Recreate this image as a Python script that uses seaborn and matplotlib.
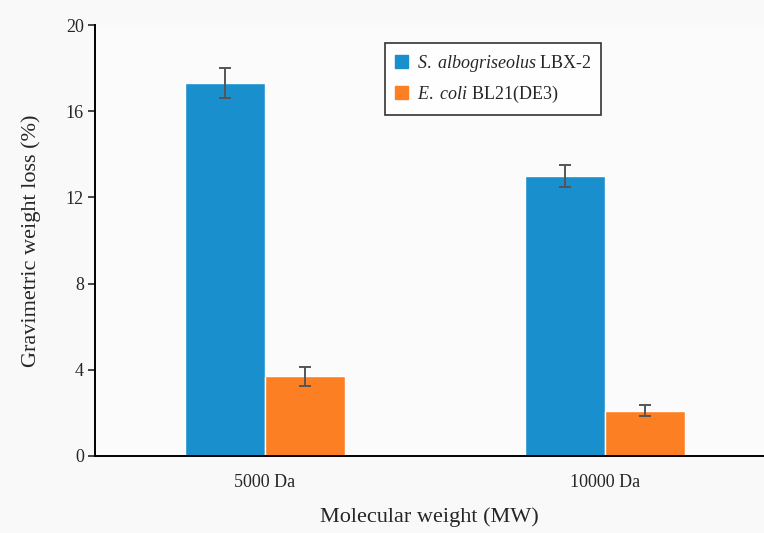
import matplotlib
matplotlib.use("Agg")
import matplotlib.pyplot as plt
import seaborn as sns
import pandas as pd

# values
groups = ["5000 Da", "10000 Da"]
strains = ["S. albogriseolus LBX-2", "E. coli BL21(DE3)"]
strain_labels = [r"$\it{S.\ albogriseolus}$ LBX-2", r"$\it{E.\ coli}$ BL21(DE3)"]
loss_albo = [17.3, 13.0]
loss_coli = [3.7, 2.1]
err_albo = [0.7, 0.5]
err_coli = [0.45, 0.25]

colors = ["#1a8fce", "#fd7f23"]

df = pd.DataFrame({
    "mw": groups * 2,
    "strain": [strains[0]] * 2 + [strains[1]] * 2,
    "loss": loss_albo + loss_coli,
    "err": err_albo + err_coli,
})

sns.set_style("ticks")
plt.rcParams["font.family"] = ["Liberation Serif", "DejaVu Serif"]
plt.rcParams["mathtext.fontset"] = "custom"
plt.rcParams["mathtext.it"] = "Liberation Serif:italic"
plt.rcParams["mathtext.rm"] = "Liberation Serif"

fig = plt.figure(figsize=(7.64, 5.33), dpi=100, facecolor="#f9f9f9")
ax = fig.add_axes([95 / 764, 77 / 533, (764 - 95) / 764, 431 / 533])
ax.set_facecolor("#fbfbfb")

sns.barplot(data=df, x="mw", y="loss", hue="strain", order=groups,
            hue_order=strains, palette=colors, width=0.47, errorbar=None,
            saturation=1, ax=ax, legend=False)

# error bars at the bar centres
for cont, strain in zip(ax.containers, strains):
    sub = df[df["strain"] == strain].set_index("mw").loc[groups]
    xs = [p.get_x() + p.get_width() / 2 for p in cont.patches]
    ax.errorbar(xs, sub["loss"], yerr=sub["err"], fmt="none",
                ecolor="#555555", elinewidth=1.4, capsize=4, capthick=1.4)

ax.set_xlim(-0.5, 1.4676)
ax.set_ylim(0, 20)
ax.set_yticks([0, 4, 8, 12, 16, 20])
ax.tick_params(axis="y", direction="out", length=5, width=1.2, labelsize=13, pad=3)
ax.tick_params(axis="x", length=0, labelsize=13, pad=13)
ax.set_xlabel("Molecular weight (MW)", fontsize=16, labelpad=12)
ax.set_ylabel("Gravimetric weight loss (%)", fontsize=16, labelpad=18)
for s in ["top", "right"]:
    ax.spines[s].set_visible(False)
for s in ["left", "bottom"]:
    ax.spines[s].set_linewidth(1.4)
    ax.spines[s].set_color("black")

handles = [plt.Rectangle((0, 0), 1, 1, color=c) for c in colors]
leg = ax.legend(handles, strain_labels, loc="upper left",
                bbox_to_anchor=(290 / 669, 1 - 18 / 431), fontsize=13,
                frameon=True, fancybox=False, handlelength=0.7,
                handleheight=0.7, handletextpad=0.5, borderpad=0.55,
                labelspacing=0.55, borderaxespad=0)
leg.get_frame().set_edgecolor("black")
leg.get_frame().set_linewidth(1.2)

fig.savefig("out.png", dpi=100, facecolor=fig.get_facecolor())
